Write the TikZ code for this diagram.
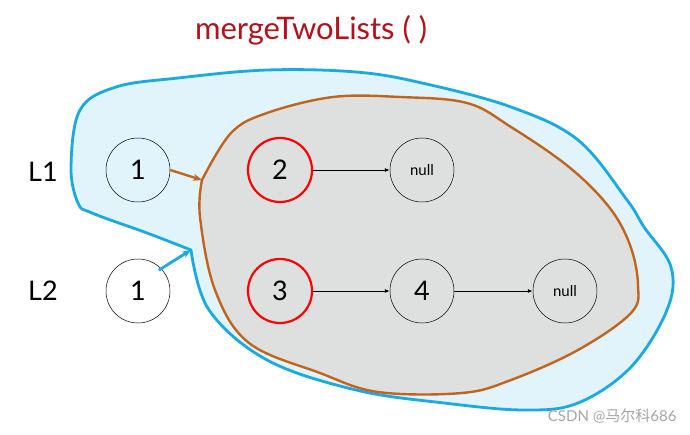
\documentclass[tikz,border=0pt]{standalone}
\usepackage{fontspec}
\setmainfont{Lato}
\newfontfamily\cjkfont{Noto Sans CJK SC}
\usetikzlibrary{arrows.meta}
\definecolor{blueline}{HTML}{1AA9E0}
\definecolor{bluefill}{HTML}{E1F4FB}
\definecolor{orline}{HTML}{C0641E}
\definecolor{grayfill}{HTML}{DEE0DF}
\definecolor{titlered}{HTML}{B3121A}
\tikzset{
  listnode/.style={circle, draw=black, line width=0.5pt, minimum size=64pt, inner sep=0pt, font=\fontsize{27}{27}\selectfont},
  curnode/.style={listnode, draw=red, line width=2.2pt},
  nullnode/.style={listnode, font=\fontsize{15}{15}\selectfont},
  lab/.style={font=\fontsize{27}{27}\selectfont},
  nextarrow/.style={-{Latex[length=5pt,width=4pt]}, line width=0.8pt},
}
\begin{document}
\begin{tikzpicture}[x=1pt,y=-1pt]
\useasboundingbox (0,0) rectangle (690,435);
\fill[white] (0,0) rectangle (690,435);
% blue region
\coordinate (bTip) at (191,250);
\filldraw[fill=bluefill, draw=blueline, line width=2.8pt, line join=round]
  plot[smooth, tension=0.6] coordinates {(191,250) (209,310) (267,360) (356,390) (444,403) (524,410) (578,403) (631,367) (667,310) (671,267) (644,227) (627,200) (578,140) (511,107) (422,83) (356,72) (267,70) (178,78) (116,87) (80,110) (71,167) (78,203) (92,213) (147,233) (191,250)} -- cycle;
% orange region
\coordinate (oTip) at (202,180);
\filldraw[fill=grayfill, draw=orline, line width=2.4pt, line join=round]
  plot[smooth, tension=0.6] coordinates {(202,180) (231,133) (267,113) (333,97) (400,97) (467,103) (511,127) (569,167) (609,207) (630,245) (638,285) (631,313) (578,350) (511,380) (462,393) (378,392) (320,373) (249,343) (215,290) (200,217) (202,180)} -- cycle;
% title
\node[text=titlered, font=\fontsize{31}{31}\selectfont] (title) at (311,30) {mergeTwoLists ( )};
% labels
\node[lab] (L1) at (43,172) {L1};
\node[lab] (L2) at (43,291) {L2};
% nodes
\node[listnode, fill=bluefill] (a1) at (138,170) {1};
\node[curnode] (a2) at (280,170) {2};
\node[nullnode] (an) at (422,170) {null};
\node[listnode, fill=white] (b1) at (138,291) {1};
\node[curnode] (b3) at (280,291) {3};
\node[listnode] (b4) at (422,291) {4};
\node[nullnode] (bn) at (565,291) {null};
% connectors
\draw[nextarrow] (a2) -- (an);
\draw[nextarrow] (b3) -- (b4);
\draw[nextarrow] (b4) -- (bn);
\draw[-{Stealth[length=9pt,width=7pt]}, draw=orline, line width=2.4pt] (a1.east) -- (oTip);
\draw[-{Stealth[length=9pt,width=7pt]}, draw=blueline, line width=2.8pt] (b1.north east) ++(-2,2) -- (bTip);
% watermark
\node[text=gray!70, anchor=east, font=\fontsize{15}{15}\selectfont] (wm) at (680,416) {CSDN @{\cjkfont 马尔科}686};
\end{tikzpicture}
\end{document}
